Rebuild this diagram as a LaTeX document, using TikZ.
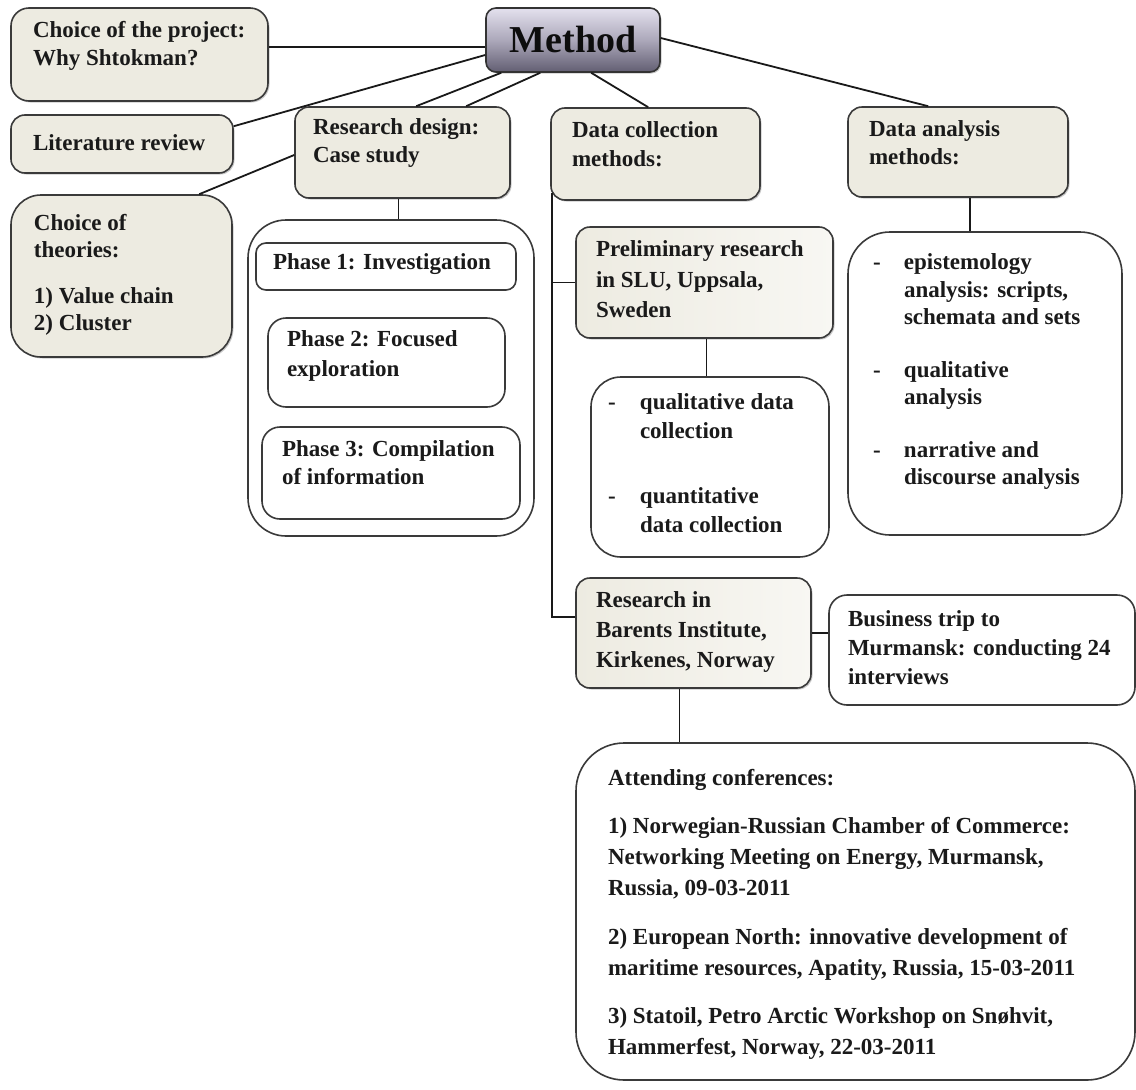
\documentclass[tikz,border=0pt]{standalone}
\usepackage{fontspec}
\setmainfont{Liberation Serif}
\usetikzlibrary{calc,shadows}
\definecolor{tanfill}{RGB}{237,235,225}
\definecolor{edge}{RGB}{58,58,58}
\definecolor{mtop}{RGB}{228,225,238}
\definecolor{mmid}{RGB}{172,168,186}
\definecolor{mbot}{RGB}{98,94,114}
\definecolor{ink}{RGB}{26,26,26}
\begin{document}
\begin{tikzpicture}[x=1pt,y=-1pt,
  sz/.style 2 args={minimum width=#1pt, minimum height=#2pt},
  tanbox/.style={draw=edge, line width=1.6pt, fill=tanfill, inner sep=0pt,
    rounded corners=#1,
    drop shadow={shadow xshift=1.5pt, shadow yshift=-1.5pt, opacity=0.35, fill=black!60}},
  tanbox/.default=14pt,
  fadebox/.style={tanbox=#1, left color=tanfill, right color=tanfill!40!white},
  fadebox/.default=14pt,
  whitebox/.style={draw=edge, line width=1.6pt, fill=white, inner sep=0pt, rounded corners=#1},
  whitebox/.default=16pt,
  txt/.style={anchor=north west, inner sep=0pt, outer sep=0pt, align=left, text=ink,
    font=\fontsize{23}{#1}\selectfont\bfseries},
  txt/.default=28,
  link/.style={draw=black!90, line width=1.8pt}]

\useasboundingbox[fill=white] (0,0) rectangle (1136,1090);

% ---- boxes ----
\node[tanbox=18pt, sz={257}{93}] (proj) at (139.5,54.5) {};
\node[draw=black!80, line width=1.6pt, inner sep=0pt, rounded corners=10pt,
      top color=mtop, bottom color=mbot, middle color=mmid, sz={174}{64},
      drop shadow={shadow xshift=1.5pt, shadow yshift=-1.5pt, opacity=0.35, fill=black!60},
      text=black!95, font=\fontsize{38}{40}\selectfont\bfseries] (meth) at (573,40) {Method};
\node[tanbox, sz={222}{58}] (lit) at (122,144) {};
\node[tanbox, sz={215}{91}] (rd) at (402.5,152.5) {};
\node[tanbox, sz={209}{92}] (dc) at (655.5,154) {};
\node[tanbox, sz={220}{90}] (da) at (958,152) {};
\node[tanbox=30pt, sz={221}{162}] (th) at (121.5,276) {};

\node[whitebox=38pt, sz={286}{316}] (ph) at (391,378) {};
\node[whitebox=10pt, sz={260}{47}] (p1) at (386,266.5) {};
\node[whitebox=18pt, sz={237}{89}] (p2) at (386.5,362.5) {};
\node[whitebox=18pt, sz={258}{92}] (p3) at (391,473) {};

\node[fadebox, sz={257}{111}] (pr) at (704.5,282.5) {};
\node[whitebox=30pt, sz={238}{180}] (dl) at (710,467) {};
\node[whitebox=42pt, sz={274}{303}] (al) at (985,383.5) {};

\node[fadebox, sz={235}{110}] (ba) at (693.5,633) {};
\node[whitebox=18pt, sz={306}{110}] (bt) at (982,650) {};
\node[whitebox=48pt, sz={559}{337}] (cf) at (855.5,911.5) {};

% ---- texts ----
\node[txt] (t-proj) at (33,21) {Choice of the project:\\Why Shtokman?};
\node[txt] (t-lit) at (33,135) {Literature review};
\node[txt] (t-rd) at (313,119) {Research design:\\Case study};
\node[txt=29] (t-dc) at (572,122) {Data collection\\methods:};
\node[txt] (t-da) at (869,121) {Data analysis\\methods:};
\node[txt=27] (t-th) at (34,214) {Choice of\\theories:\\[19pt]1) Value chain\\2) Cluster};
\node[txt] (t-p1) at (273,254) {Phase 1: Investigation};
\node[txt=30] (t-p2) at (287,331) {Phase 2: Focused\\exploration};
\node[txt] (t-p3) at (282,441) {Phase 3: Compilation\\of information};
\node[txt=30.5] (t-pr) at (596,241) {Preliminary research\\in SLU, Uppsala,\\Sweden};
\node[txt=29] (t-dl) at (608,394) {\makebox[32pt][l]{-}qualitative data\\\hspace*{32pt}collection\\[36pt]%
  \makebox[32pt][l]{-}quantitative\\\hspace*{32pt}data collection};
\node[txt=27.5] (t-al) at (873,254) {\makebox[31pt][l]{-}epistemology\\\hspace*{31pt}analysis: scripts,\\\hspace*{31pt}schemata and sets\\[25pt]%
  \makebox[31pt][l]{-}qualitative\\\hspace*{31pt}analysis\\[25pt]%
  \makebox[31pt][l]{-}narrative and\\\hspace*{31pt}discourse analysis};
\node[txt=30] (t-ba) at (596,592) {Research in\\Barents Institute,\\Kirkenes, Norway};
\node[txt=29] (t-bt) at (848,611) {Business trip to\\Murmansk: conducting 24\\interviews};
\node[txt=31] (t-cf) at (608,769) {Attending conferences:\\[17pt]%
  1) Norwegian-Russian Chamber of Commerce:\\Networking Meeting on Energy, Murmansk,\\Russia, 09-03-2011\\[18pt]%
  2) European North: innovative development of\\maritime resources, Apatity, Russia, 15-03-2011\\[17pt]%
  3) Statoil, Petro Arctic Workshop on Snøhvit,\\Hammerfest, Norway, 22-03-2011};

% ---- connectors ----
\path ([yshift=-7pt]meth.west) coordinate (mj);
\draw[link] (mj) -- (mj -| proj.east);
\draw[link] ($(meth.west)+(0,15)$) -- ($(lit.north east)+(0,12)$);
\draw[link] ($(meth.south west)+(16,0)$) -- ($(rd.north west)+(122,0)$);
\draw[link] ($(meth.south west)+(55,0)$) -- ($(rd.north west)+(172,0)$);
\draw[link] ($(meth.south west)+(106,0)$) -- ($(dc.north west)+(98,0)$);
\draw[link] ($(meth.east)+(0,-2)$) -- ($(da.north west)+(81,0)$);
\draw[link] ($(th.north west)+(189,0)$) -- ($(rd.west)+(0,2.5)$);
\draw[link] ($(rd.south)+(-4,0)$) coordinate (rdb) -- (rdb |- ph.north);
\draw[link] ($(dc.south west)+(2,-8)$) coordinate (trunk) |- ($(ba.west)+(0,-16)$);
\draw[link] (trunk |- pr.west) -- (pr.west);
\draw[link] ($(pr.south)+(2,0)$) coordinate (prb) -- (prb |- dl.north);
\draw[link] ($(da.south)+(12,0)$) coordinate (dab) -- (dab |- al.north);
\draw[link] (ba.east) -- (bt.west |- ba.east);
\draw[link] ($(ba.south)+(-14,0)$) coordinate (bab) -- (bab |- cf.north);
\end{tikzpicture}
\end{document}
